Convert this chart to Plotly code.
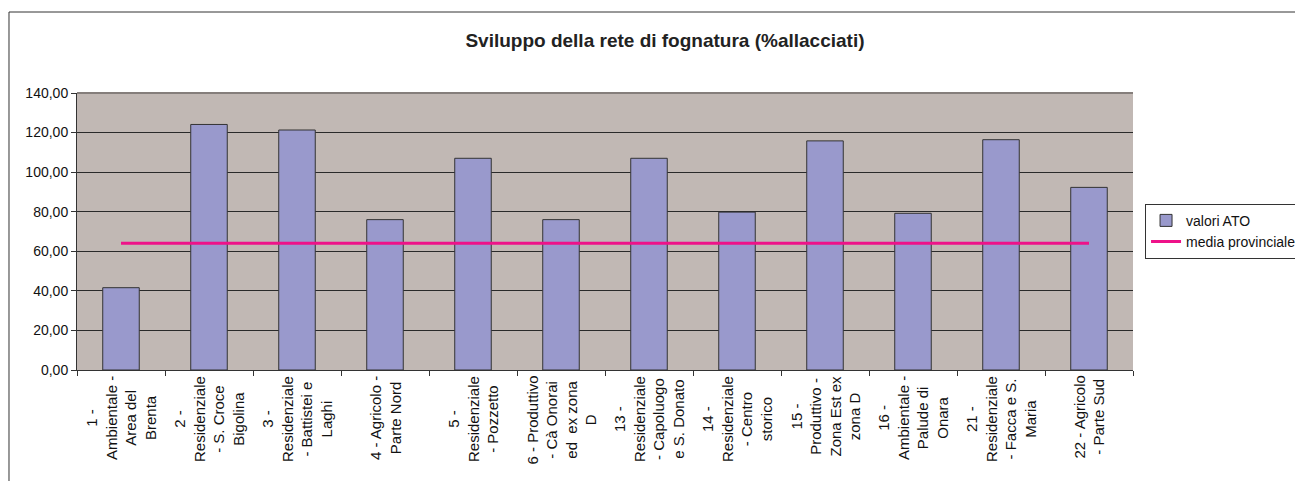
import plotly.graph_objects as go

# valori per zona (% allacciati)
zone = [
    "1 -<br>Ambientale -<br>Area del<br>Brenta",
    "2 -<br>Residenziale<br>- S. Croce<br>Bigolina",
    "3 -<br>Residenziale<br>- Battistei e<br>Laghi",
    "4 - Agricolo -<br>Parte Nord",
    "5 -<br>Residenziale<br>- Pozzetto",
    "6 - Produttivo<br>- Cà Onorai<br>ed  ex zona<br>D",
    "13 -<br>Residenziale<br>- Capoluogo<br>e S. Donato",
    "14 -<br>Residenziale<br>- Centro<br>storico",
    "15 -<br>Produttivo -<br>Zona Est ex<br>zona D",
    "16 -<br>Ambientale -<br>Palude di<br>Onara",
    "21 -<br>Residenziale<br>- Facca e S.<br>Maria",
    "22 - Agricolo<br>- Parte Sud",
]
valori_ato = [41.6, 124.1, 121.3, 76.0, 107.0, 76.0, 107.0, 79.8, 115.8, 79.2, 116.4, 92.3]
media_provinciale = 64.0

FONT = "Liberation Sans, Arial, sans-serif"

fig = go.Figure()
fig.add_trace(go.Bar(
    x=zone, y=valori_ato, name="valori ATO",
    marker=dict(color="#9999cc", line=dict(color="#333333", width=1)),
))
fig.add_trace(go.Scatter(
    x=[zone[0], zone[-1]], y=[media_provinciale, media_provinciale],
    mode="lines", name="media provinciale",
    line=dict(color="#ee1289", width=3),
))

# etichette asse x centrate, ruotate
for z in zone:
    fig.add_annotation(
        x=z, y=0, xref="x", yref="paper", yanchor="top", xanchor="center",
        yshift=-4, text=z, textangle=-90, showarrow=False, align="center",
        font=dict(family=FONT, size=15, color="#111111"),
    )

# bordo superiore dell'area del grafico (grigio)
fig.add_shape(
    type="line", xref="paper", yref="paper", x0=0, x1=1, y0=1, y1=1,
    line=dict(color="#857e7b", width=2), layer="above",
)
# cornice esterna del grafico (lato sinistro e superiore)
fig.add_shape(
    type="line", xref="paper", yref="paper",
    x0=-0.0644, x1=1.3, y0=1.2924, y1=1.2924,
    line=dict(color="#333333", width=1), layer="below",
)
fig.add_shape(
    type="line", xref="paper", yref="paper",
    x0=-0.0644, x1=-0.0644, y0=-0.6, y1=1.2924,
    line=dict(color="#333333", width=1), layer="below",
)

fig.update_layout(
    width=1295, height=481,
    margin=dict(l=77, r=162, t=93, b=111, autoexpand=False),
    paper_bgcolor="white", plot_bgcolor="#c1b8b4",
    separators=",.",
    bargap=0.585,
    font=dict(family=FONT, size=14, color="#111111"),
    title=dict(
        text="<b>Sviluppo della rete di fognatura (%allacciati)</b>",
        x=0.5135, xanchor="center", y=0.917, yanchor="middle",
        font=dict(family=FONT, size=19, color="#222222"),
    ),
    legend=dict(
        x=1.0114, y=0.60, xanchor="left", yanchor="top",
        bordercolor="#333333", borderwidth=1, bgcolor="white",
        font=dict(family=FONT, size=14, color="#111111"),
        tracegroupgap=0,
    ),
    showlegend=True,
)
fig.update_xaxes(
    showticklabels=False, tickson="boundaries", ticks="outside", ticklen=5,
    tickcolor="#333333", showline=True, linecolor="#333333", linewidth=1,
    showgrid=False, mirror=False,
)
fig.update_yaxes(
    range=[0, 140], dtick=20, tickformat=".2f", ticks="outside", ticklen=5,
    tickcolor="#333333", showline=True, linecolor="#333333", linewidth=1,
    showgrid=True, gridcolor="#2a2a2a", gridwidth=1, zeroline=False,
    tickfont=dict(family=FONT, size=14, color="#111111"),
)

fig.write_html(
    "out.html",
    config={"displayModeBar": False},
    post_script="document.body.style.margin='0';",
)
